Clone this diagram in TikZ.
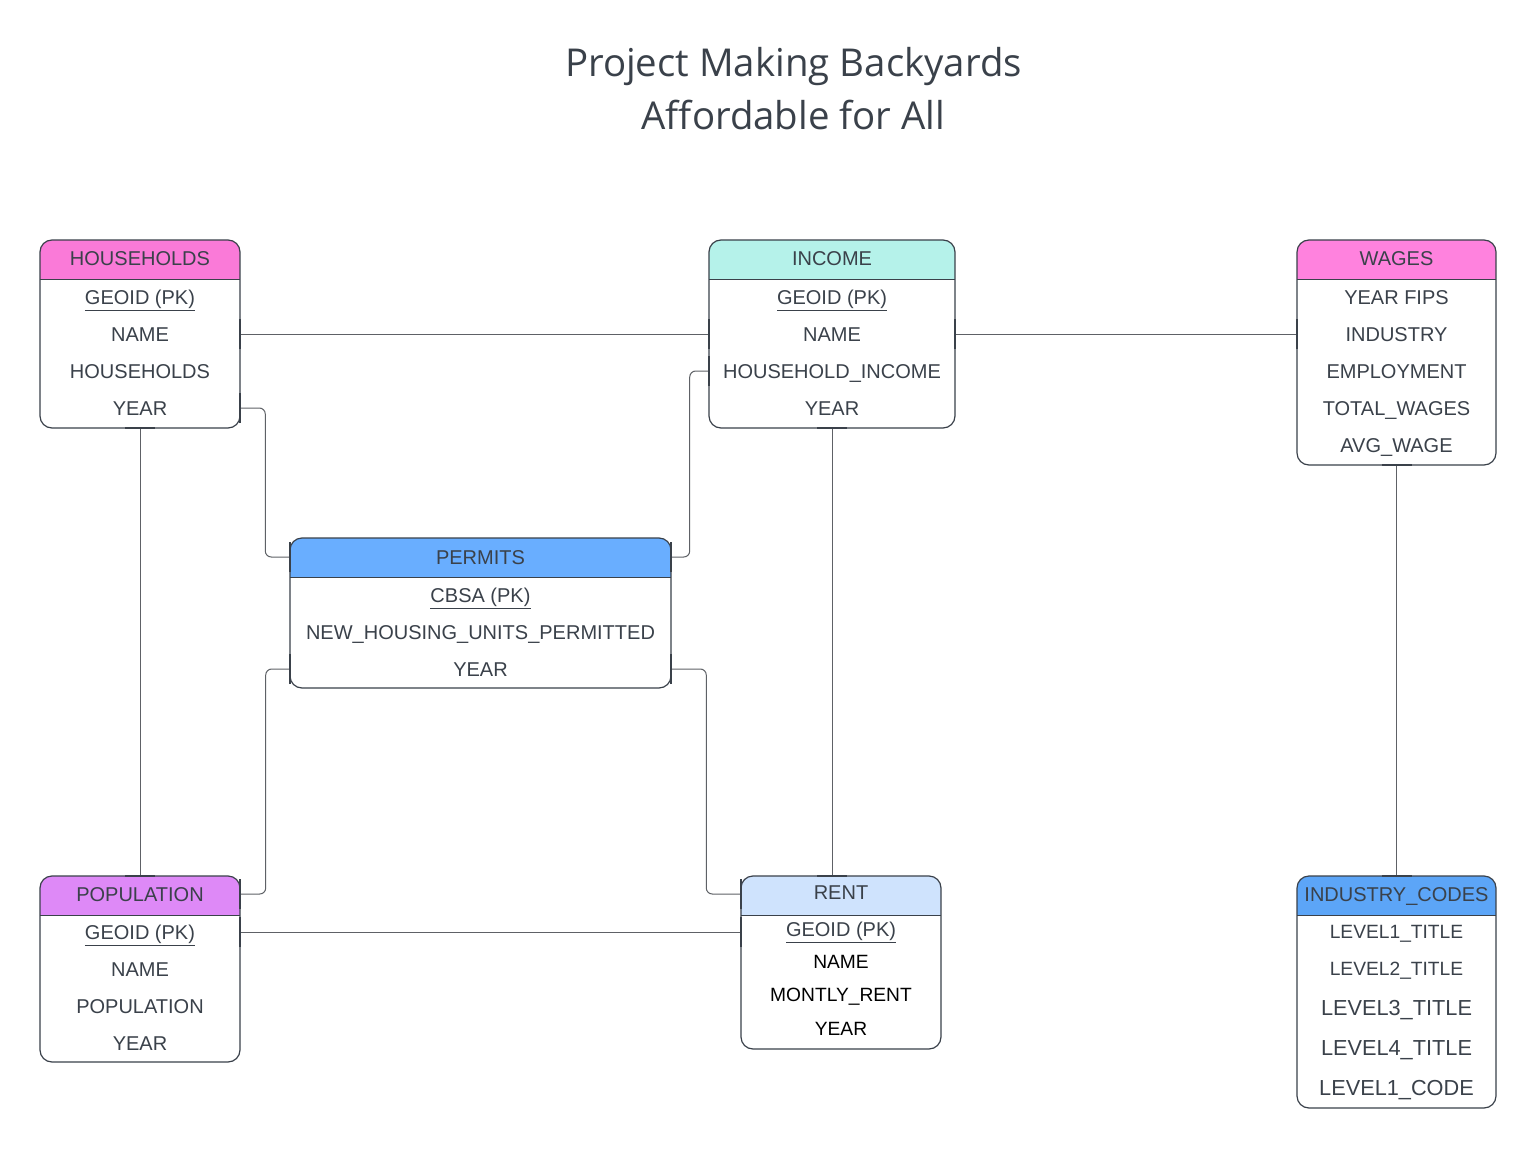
\documentclass[tikz,border=0pt]{standalone}
\usepackage{fontspec}
\setmainfont{Liberation Sans}
\newfontfamily\titlefont{Open Sans}
\usetikzlibrary{fit}
\definecolor{ink}{HTML}{3A414A}
\definecolor{connc}{HTML}{5E6166}
\definecolor{hhc}{HTML}{FA7AD8}
\definecolor{wgc}{HTML}{FF82DE}
\definecolor{inc}{HTML}{B5F2EA}
\definecolor{pmc}{HTML}{69AEFF}
\definecolor{ppc}{HTML}{DE89F7}
\definecolor{rtc}{HTML}{CFE3FD}
\definecolor{icc}{HTML}{5CA5F7}
\tikzset{
  boxline/.style={draw=ink, line width=0.9pt},
  conn/.style={draw=connc, line width=0.75pt, rounded corners=4.5pt},
  onebar/.style={draw=ink, line width=1.5pt},
  rowt/.style={inner sep=0pt, text height=10.7pt, text depth=0pt, text=ink, font=\fontsize{15}{18}\selectfont},
  rowb/.style={rowt, text=black, font=\fontsize{14.4}{17}\selectfont, text height=10.3pt},
  rows/.style={rowt, font=\fontsize{14.4}{17}\selectfont, text height=10.3pt},
  rowl/.style={rowt, font=\fontsize{16.3}{19}\selectfont, text height=11.7pt},
  titlet/.style={inner sep=0pt, anchor=base, text=ink, font=\titlefont\fontsize{28.8}{32}\selectfont},
}
\newcommand\erbox[7]{%
  \node[fit={(#2,#3)(#4,#5)}, inner sep=0pt] (#1) {};
  \begin{scope}
    \clip[rounded corners=9pt] (#2,#3) rectangle (#4,#5);
    \fill[white] (#2,#3) rectangle (#4,#5);
    \fill[#7] (#2,#3) rectangle (#4,#6);
  \end{scope}
  \draw[boxline, line width=0.7pt] (#2,#6) -- (#4,#6);
  \draw[boxline, rounded corners=9pt] (#2,#3) rectangle (#4,#5);
}
\newcommand\vonebar[1]{\path #1 coordinate (tmpb);
  \draw[onebar] ([yshift=-11.25pt]tmpb) -- ([yshift=11.25pt]tmpb);}
\newcommand\honebar[1]{\path #1 coordinate (tmpb);
  \draw[onebar] ([xshift=-11.25pt]tmpb) -- ([xshift=11.25pt]tmpb);}
\begin{document}
\begin{tikzpicture}[x=0.75pt, y=-0.75pt]
\useasboundingbox (0,0) rectangle (1536,1149);
\fill[white] (0,0) rectangle (1536,1149);

% title
\node[titlet] (t1) at (793.5,77) {Project Making Backyards};
\node[titlet] (t2) at (793.5,130) {Affordable for All};

% boxes
\erbox{hh}{40}{240}{240}{428}{279}{hhc}
\erbox{inc}{709}{240}{955}{428}{279}{inc}
\erbox{wg}{1297}{240}{1496}{465}{279}{wgc}
\erbox{pm}{290}{538}{671}{688}{577}{pmc}
\erbox{pp}{40}{876}{240}{1062}{915}{ppc}
\erbox{rt}{741}{876}{941}{1049}{915}{rtc}
\erbox{ic}{1297}{876}{1496}{1108}{915}{icc}

% HOUSEHOLDS
\node[rowt] (hh0) at (140,258) {HOUSEHOLDS};
\node[rowt] (hh1) at (140,297) {\underline{GEOID (PK)}};
\node[rowt] (hh2) at (140,334) {NAME};
\node[rowt] (hh3) at (140,371) {HOUSEHOLDS};
\node[rowt] (hh4) at (140,408) {YEAR};
% INCOME
\node[rowt] (inc0) at (832,258) {INCOME};
\node[rowt] (inc1) at (832,297) {\underline{GEOID (PK)}};
\node[rowt] (inc2) at (832,334) {NAME};
\node[rowt] (inc3) at (832,371) {HOUSEHOLD\_INCOME};
\node[rowt] (inc4) at (832,408) {YEAR};
% WAGES
\node[rowt] (wg0) at (1396.5,258) {WAGES};
\node[rowt] (wg1) at (1396.5,297) {YEAR FIPS};
\node[rowt] (wg2) at (1396.5,334) {INDUSTRY};
\node[rowt] (wg3) at (1396.5,371) {EMPLOYMENT};
\node[rowt] (wg4) at (1396.5,408) {TOTAL\_WAGES};
\node[rowt] (wg5) at (1396.5,445) {AVG\_WAGE};
% PERMITS
\node[rowt] (pm0) at (480.5,557) {PERMITS};
\node[rowt] (pm1) at (480.5,595) {\underline{CBSA (PK)}};
\node[rowt] (pm2) at (480.5,632) {NEW\_HOUSING\_UNITS\_PERMITTED};
\node[rowt] (pm3) at (480.5,669) {YEAR};
% POPULATION
\node[rowt] (pp0) at (140,894) {POPULATION};
\node[rowt] (pp1) at (140,932) {\underline{GEOID (PK)}};
\node[rowt] (pp2) at (140,969) {NAME};
\node[rowt] (pp3) at (140,1006) {POPULATION};
\node[rowt] (pp4) at (140,1043) {YEAR};
% RENT
\node[rowt] (rt0) at (841,892) {RENT};
\node[rowt] (rt1) at (841,929) {\underline{GEOID (PK)}};
\node[rowb] (rt2) at (841,962) {NAME};
\node[rowb] (rt3) at (841,995) {MONTLY\_RENT};
\node[rowb] (rt4) at (841,1029) {YEAR};
% INDUSTRY_CODES
\node[rowt] (ic0) at (1396.5,894) {INDUSTRY\_CODES};
\node[rows] (ic1) at (1396.5,932) {LEVEL1\_TITLE};
\node[rows] (ic2) at (1396.5,969) {LEVEL2\_TITLE};
\node[rowl] (ic3) at (1396.5,1008) {LEVEL3\_TITLE};
\node[rowl] (ic4) at (1396.5,1048) {LEVEL4\_TITLE};
\node[rowl] (ic5) at (1396.5,1088) {LEVEL1\_CODE};

% connectors
\draw[conn] (hh.east |- hh2) -- (inc.west |- hh2);
\draw[conn] (inc.east |- inc2) -- (wg.west |- inc2);
\draw[conn] (hh.south) -- (pp.north);
\draw[conn] (hh.east |- hh4) -- ++(25,0) |- (pm.west |- pm0);
\draw[conn] (inc.west |- inc3) -- ++(-19,0) |- (pm.east |- pm0);
\draw[conn] (pm.west |- pm3) -- ++(-24,0) |- (pp.east |- pp0);
\draw[conn] (pm.east |- pm3) -- ++(35,0) |- (rt.west |- pp0);
\draw[conn] (inc.south -| inc0) -- (rt.north -| inc0);
\draw[conn] (pp.east |- pp1) -- (rt.west |- pp1);
\draw[conn] (wg.south) -- (ic.north);

% cardinality bars
\vonebar{(hh.east |- hh2)}
\vonebar{(inc.west |- hh2)}
\vonebar{(inc.east |- inc2)}
\vonebar{(wg.west |- inc2)}
\vonebar{(hh.east |- hh4)}
\vonebar{(inc.west |- inc3)}
\vonebar{(pm.west |- pm0)}
\vonebar{(pm.east |- pm0)}
\vonebar{(pm.west |- pm3)}
\vonebar{(pm.east |- pm3)}
\vonebar{(pp.east |- pp0)}
\vonebar{(pp.east |- pp1)}
\vonebar{(rt.west |- pp0)}
\vonebar{(rt.west |- pp1)}
\honebar{(hh.south)}
\honebar{(pp.north)}
\honebar{(inc.south -| inc0)}
\honebar{(rt.north -| inc0)}
\honebar{(wg.south)}
\honebar{(ic.north)}
\end{tikzpicture}
\end{document}
